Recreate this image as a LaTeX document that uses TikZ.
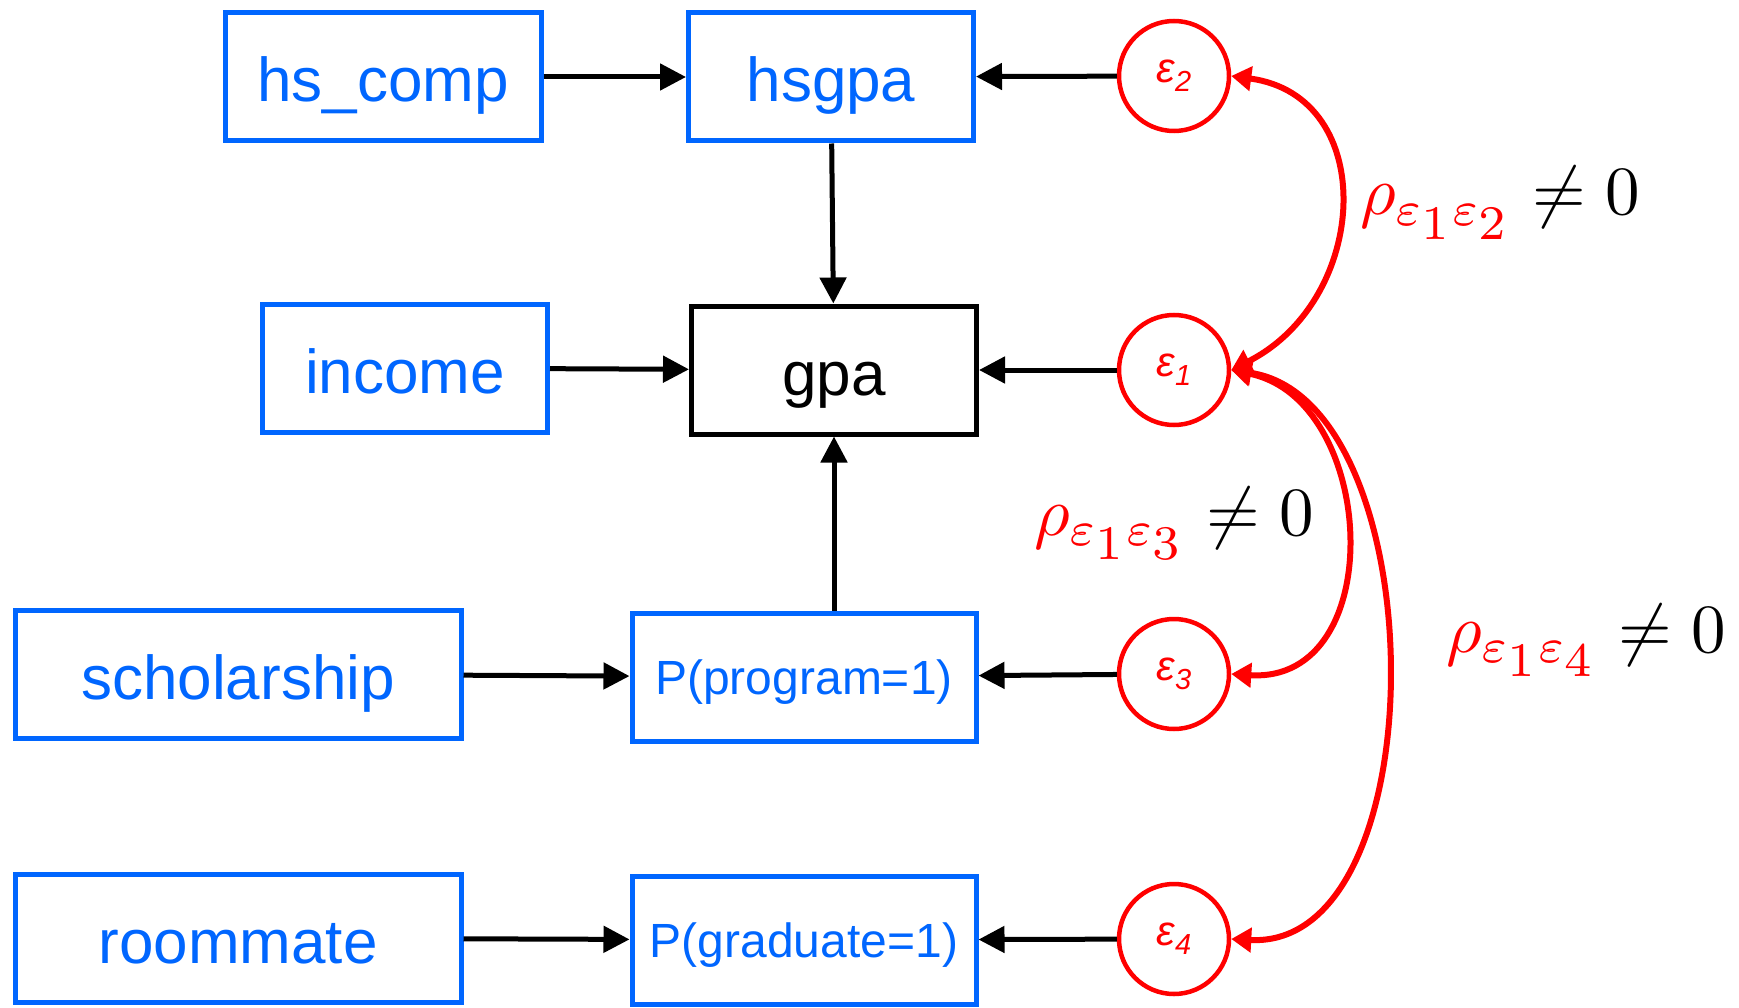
\documentclass[tikz,border=0pt]{standalone}
\usepackage[no-math]{fontspec}
\setmainfont{Liberation Sans}
\usetikzlibrary{arrows.meta,positioning}
\definecolor{varblue}{RGB}{0,102,255}
\newcommand\errsub[1]{\raisebox{-9pt}{\fontsize{29}{29}\selectfont #1}}
\newcommand\rhopair[2]{\scalebox{6.9}{$\color{red}\rho_{\varepsilon_{\scriptstyle #1}\varepsilon_{\scriptstyle #2}}\color{black}\neq 0$}}

\begin{document}
\begin{tikzpicture}
    [ x=1pt, y=-1pt
    , var/.style={draw=varblue, text=varblue, line width=5pt, inner sep=0pt, minimum height=128pt, text height=50pt, text depth=0pt, font=\fontsize{62}{62}\selectfont}
    , prob/.style={var, text height=34pt, font=\fontsize{48}{48}\selectfont}
    , err/.style={circle, draw=red, text=red, line width=4.5pt, inner sep=0pt, minimum size=110pt, font=\fontsize{42}{42}\selectfont\itshape}
    , effect/.style={-{Triangle[length=26pt,width=26pt]}, line width=5pt}
    , corr/.style={{Triangle[length=20pt,width=24pt]}-{Triangle[length=20pt,width=24pt]}, red, line width=6pt}
    , rho/.style={anchor=base west, inner sep=0pt, font=\fontsize{10}{12}\selectfont}
    ]
  \useasboundingbox (0,0) rectangle (1739,1008);
  \node[var, minimum width=316pt] (hscomp) at (383,77) {hs\_comp};
  \node[var, minimum width=285pt] (hsgpa) at (831,77) {hsgpa};
  \node[var, minimum width=285pt] (income) at (405,368) {income};
  \node[var, draw=black, text=black, minimum width=285pt] (gpa) at (834,370) {gpa};
  \node[var, minimum width=446pt] (schol) at (238,674) {scholarship};
  \node[prob, minimum width=344pt] (prog) at (804,677) {P(program=1)};
  \node[var, minimum width=446pt] (room) at (238,938) {roommate};
  \node[prob, minimum width=344pt] (grad) at (804,940) {P(graduate=1)};

  \node[err] (e2) at (1174,76) {ε\errsub{2}};
  \node[err] (e1) at (1174,370) {ε\errsub{1}};
  \node[err] (e3) at (1174,674) {ε\errsub{3}};
  \node[err] (e4) at (1174,939) {ε\errsub{4}};

  \draw[effect] (hscomp) -- (hsgpa);
  \draw[effect] (e2) -- (hsgpa);
  \draw[effect] (hsgpa) -- (gpa);
  \draw[effect] (income) -- (gpa);
  \draw[effect] (e1) -- (gpa);
  \draw[effect] (prog.north -| gpa.south) -- (gpa.south);
  \draw[effect] (schol) -- (prog);
  \draw[effect] (e3) -- (prog);
  \draw[effect] (room) -- (grad);
  \draw[effect] (e4) -- (grad);

  \draw[corr] (e1.east) .. controls (1370,300) and (1380,96) .. (e2.east);
  \draw[corr] (e1.east) .. controls (1378,400) and (1390,684) .. (e3.east);
  \draw[corr] (e1.east) .. controls (1436,400) and (1440,950) .. (e4.east);

  \node[rho] (r12) at (1360,215) {\rhopair{1}{2}};
  \node[rho] (r13) at (1034,535) {\rhopair{1}{3}};
  \node[rho] (r14) at (1446,652) {\rhopair{1}{4}};
\end{tikzpicture}
\end{document}
